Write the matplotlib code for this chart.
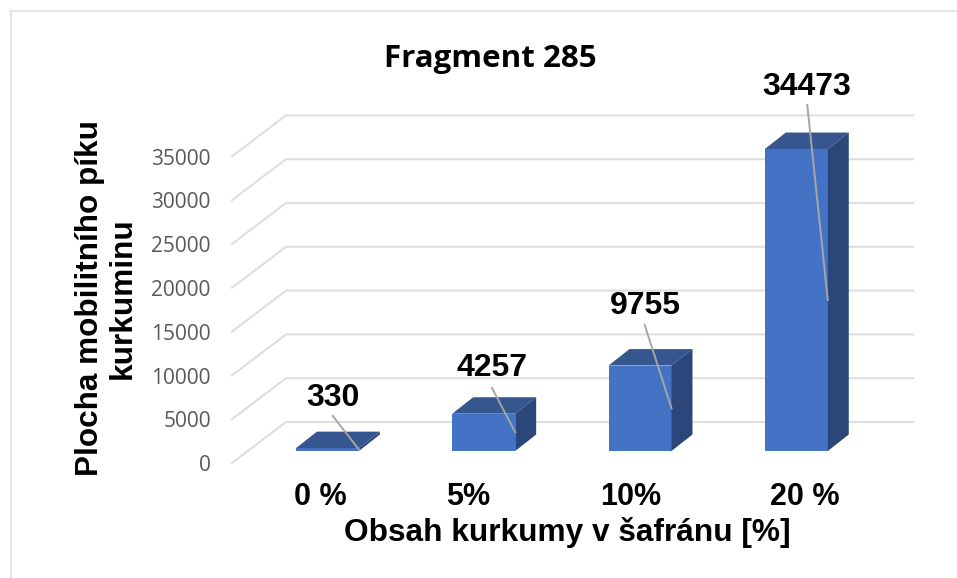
import matplotlib
matplotlib.use('Agg')
import matplotlib.pyplot as plt
from matplotlib.lines import Line2D

# Data
categories = ['0 %', '5%', '10%', '20 %']
values = [330, 4257, 9755, 34473]
y_ticks = [0, 5000, 10000, 15000, 20000, 25000, 30000, 35000]

# label positions, as (category units, value units)
label_x = [0.034, 1.053, 2.035, 3.065]
label_y = [6070, 9420, 16500, 41600]
leader_x = [0.034, 1.053, 2.03, 3.07]
leader_y = [4000, 7190, 14380, 39500]
cat_x = [-0.048, 0.902, 1.942, 3.055]

# pixel scale of the picture: 156.3 px per category, 0.00876 px per unit
bar_w = 0.403
depth_x = 0.134
depth_y = 1880
wall_left = -0.611
wall_dx = 0.346
wall_dy = 4680
wall_right = 3.746
floor_y = -1370

front_col = '#4472C4'
top_col = '#35568F'
side_col = '#2B477A'
grid_col = '#DEDEDE'

fig = plt.figure(figsize=(9.57, 5.78), dpi=100)
ax = fig.add_axes([0, 0, 1, 1])
ax.set_xlim(-2.095, 4.028)
ax.set_ylim(-14498, 51484)
ax.axis('off')

# chart border
fig.add_artist(Line2D([10.5/957, 10.5/957], [0, 1 - 11/578], color='#E4E4E4', lw=1.5))
fig.add_artist(Line2D([10/957, 1], [1 - 11/578, 1 - 11/578], color='#E4E4E4', lw=1.5))

# gridlines on wall and floor
for t in y_ticks:
    ax.plot([wall_left, wall_left + wall_dx, wall_right],
            [floor_y + t, floor_y + t + wall_dy, floor_y + t + wall_dy],
            color=grid_col, lw=1.5, zorder=1)
    ax.text(wall_left - 0.135, floor_y + t - 300, str(t), ha='right', va='center',
            fontsize=15, color='#595959', family='Open Sans')

# bars
for i, v in enumerate(values):
    l = i - bar_w / 2
    r = i + bar_w / 2
    ax.fill([l, r, r, l], [0, 0, v, v], color=front_col, lw=0, zorder=3)
    ax.fill([l, r, r + depth_x, l + depth_x], [v, v, v + depth_y, v + depth_y],
            color=top_col, lw=0, zorder=3)
    ax.fill([r, r + depth_x, r + depth_x, r], [0, depth_y, v + depth_y, v],
            color=side_col, lw=0, zorder=3)
    # leader line and label
    ax.plot([leader_x[i], r], [leader_y[i], v / 2], color='#A6A6A6', lw=1.4, zorder=4)
    ax.text(label_x[i], label_y[i], str(v), ha='center', va='center',
            fontsize=23, fontweight='bold', family='Liberation Sans', zorder=5)
    ax.text(cat_x[i], -5250, categories[i], ha='center', va='center',
            fontsize=22, fontweight='bold', family='Liberation Sans')

ax.text(1.04, 44800, 'Fragment 285', ha='center', va='center',
        fontsize=22.5, fontweight='bold', family='Open Sans')
ax.text(1.535, -9250, 'Obsah kurkumy v šafránu [%]', ha='center', va='center',
        fontsize=22.8, fontweight='bold', family='Liberation Sans')
ax.text(-1.412, 17465, 'Plocha mobilitního píku\nkurkuminu', rotation=90, ha='center', va='center',
        fontsize=22.7, fontweight='bold', family='Liberation Sans', linespacing=1.13, multialignment='center')

fig.savefig('out.png', dpi=100)
